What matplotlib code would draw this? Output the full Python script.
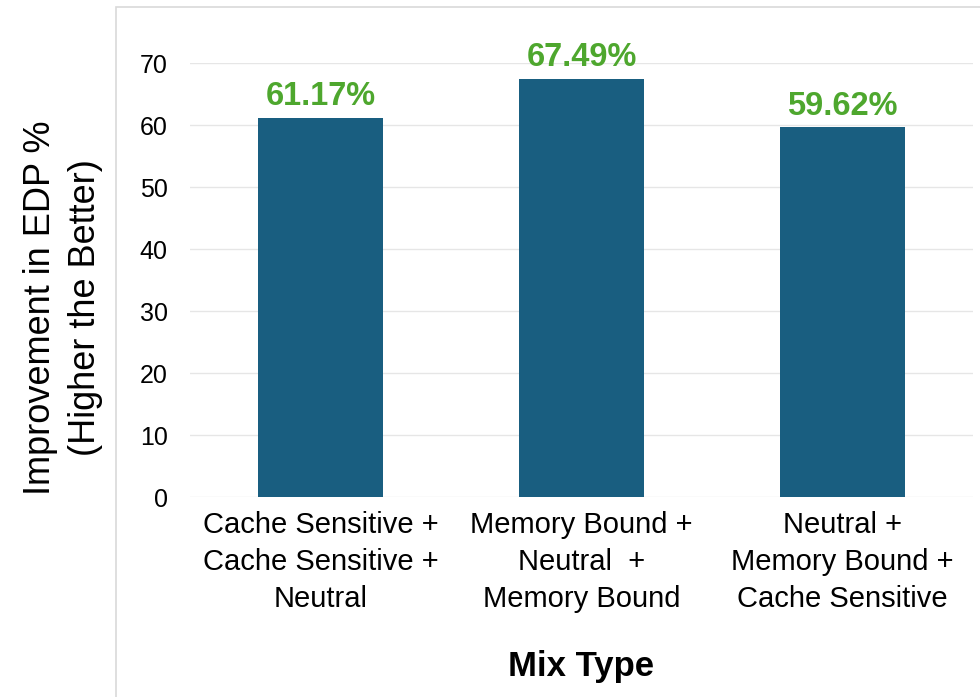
import matplotlib
matplotlib.use("Agg")
import matplotlib.pyplot as plt
from matplotlib.patches import Rectangle

# data
mix_types = ["Cache Sensitive +\nCache Sensitive +\nNeutral",
             "Memory Bound +\nNeutral  +\nMemory Bound",
             "Neutral +\nMemory Bound +\nCache Sensitive"]
edp_gain = [61.17, 67.49, 59.62]
y_ticks = [0, 10, 20, 30, 40, 50, 60, 70]

bar_color = "#195e80"
label_green = "#4ea72e"

plt.rcParams['font.family'] = ['Liberation Sans', 'DejaVu Sans']

fig = plt.figure(figsize=(9.8, 6.97), dpi=100)
ax = fig.add_axes([0.1939, 0.2869, 0.799, 0.6227])

# light grey frame around the chart area (cut off at right/bottom)
fig.patches.append(Rectangle((0.1184, -0.1), 1.0, 1.09, transform=fig.transFigure,
                             fill=False, edgecolor="#d9d9d9", linewidth=1.2))

x = range(len(mix_types))
bars = ax.bar(x, edp_gain, width=0.48, color=bar_color, zorder=3)

for b, v in zip(bars, edp_gain):
    ax.annotate(f"{v:.2f}%", (b.get_x() + b.get_width() / 2, v),
                xytext=(0, 4), textcoords="offset points",
                ha="center", va="bottom", fontsize=23.5, fontweight="bold",
                color=label_green, annotation_clip=False)

ax.set_xlim(-0.5, 2.5)
ax.set_ylim(0, 70)
ax.set_yticks(y_ticks)
ax.set_xticks(list(x))
ax.set_xticklabels(mix_types, fontsize=21, linespacing=1.4)
ax.tick_params(axis="both", length=0)
ax.tick_params(axis="y", labelsize=18, pad=16)
ax.tick_params(axis="x", pad=10)
ax.grid(axis="y", color="#e6e6e6", linewidth=1, zorder=0)
for s in ax.spines.values():
    s.set_visible(False)

ax.set_ylabel("Improvement in EDP %\n(Higher the Better)", fontsize=26,
              va="center", linespacing=1.35)
ax.yaxis.set_label_coords(-0.162, 0.437)
ax.set_xlabel("Mix Type", fontsize=25, fontweight="bold")
ax.xaxis.set_label_coords(0.5, -0.352)

fig.savefig("out.png", dpi=100)
